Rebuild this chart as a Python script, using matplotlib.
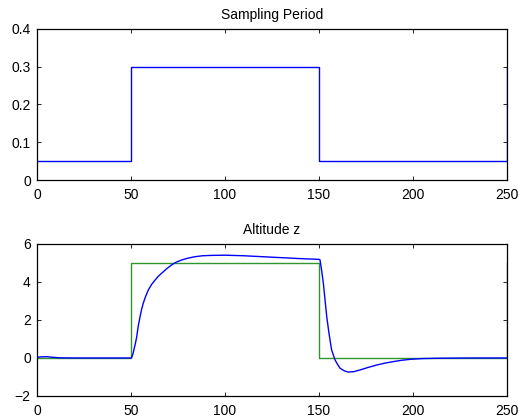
import matplotlib
matplotlib.use("Agg")
import matplotlib.pyplot as plt
from matplotlib.ticker import FuncFormatter

plt.rcParams['font.family'] = ['Liberation Sans', 'DejaVu Sans']
plt.rcParams['font.size'] = 10

# Sampling period schedule (step changes)
period_t = [0, 50, 150, 250]
period_val = [0.05, 0.3, 0.05, 0.3]

# Altitude reference (step changes)
ref_t = [0, 50, 150, 250]
ref_val = [0, 5, 0, 5]

# Measured altitude z
z_t = [0, 2, 5, 8, 12, 20, 30, 40, 50, 50.4, 51.0, 51.7, 52.4, 53, 53.8, 54.8,
       55.6, 56.5, 57.8, 59.2, 61, 62.8, 64.5, 66.3, 69, 71.6, 74, 77, 80.5,
       84, 88, 93, 100, 110, 120, 130, 140, 150, 150.5, 151.4,
       152.3, 153.2, 154.1, 155.3, 156.7, 158.5, 160, 161.2, 163.5, 165.6,
       168.5, 171.8, 176, 180.7, 185, 189.5, 194, 198.4, 205, 215, 230, 250]
z_val = [0.03, 0.06, 0.07, 0.04, 0.01, 0, 0, 0, 0, 0.04, 0.2, 0.5, 0.8, 1.1,
         1.65, 2.17, 2.55, 2.88, 3.25, 3.58, 3.88, 4.1, 4.3, 4.46, 4.7, 4.9,
         5.04, 5.16, 5.26, 5.33, 5.38, 5.40, 5.41, 5.38, 5.33, 5.28, 5.23,
         5.19, 5.17, 4.6, 3.93, 3.05, 2.17, 1.3, 0.42, -0.1, -0.36, -0.54,
         -0.68, -0.74, -0.72, -0.63, -0.5, -0.37, -0.27, -0.19, -0.12, -0.07,
         -0.03, -0.01, 0, 0]

x_ticks = [0, 50, 100, 150, 200, 250]
top_yticks = [0, 0.1, 0.2, 0.3, 0.4]
bottom_yticks = [-2, 0, 2, 4, 6]

fig = plt.figure(figsize=(5.28, 4.19), dpi=100)
ax1 = fig.add_axes([0.0701, 0.5704, 0.8902, 0.3604])
ax2 = fig.add_axes([0.0701, 0.0549, 0.8902, 0.3628])


def fmt(v, pos):
    s = ('%g' % v)
    return s.replace('-', '\u2212')


for ax in (ax1, ax2):
    ax.tick_params(direction='in', top=True, right=True, length=3.2,
                   width=0.6, pad=4.5, labelsize=10)
    ax.tick_params(axis='x', pad=5.5)
    for sp in ax.spines.values():
        sp.set_linewidth(0.9)
    ax.set_xlim(0, 250)
    ax.set_xticks(x_ticks)
    ax.yaxis.set_major_formatter(FuncFormatter(fmt))

ax1.step(period_t, period_val, where='post', color='#0000ff', lw=1.0)
ax1.set_ylim(0, 0.4)
ax1.set_yticks(top_yticks)
ax1.set_title('Sampling Period', fontsize=10, pad=7)

ax2.step(ref_t, ref_val, where='post', color='#2f952f', lw=1.0)
ax2.plot(z_t, z_val, color='#0000ff', lw=1.0)
ax2.set_ylim(-2, 6)
ax2.set_yticks(bottom_yticks)
ax2.set_title('Altitude z', fontsize=10, pad=7)

fig.savefig('out.png', dpi=100)
